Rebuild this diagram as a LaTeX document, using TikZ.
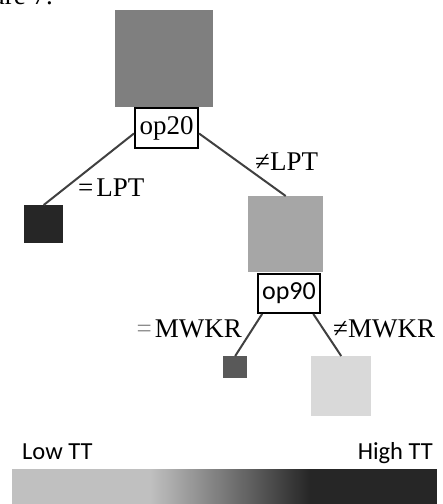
\documentclass[tikz,border=0pt]{standalone}
\usepackage{fontspec}
\setmainfont{Liberation Serif}
\newfontfamily\calib{Carlito}
\usetikzlibrary{calc}
\definecolor{rootgray}{HTML}{7F7F7F}
\definecolor{leafdark}{HTML}{262626}
\definecolor{midgray}{HTML}{A6A6A6}
\definecolor{smallgray}{HTML}{595959}
\definecolor{lightgray}{HTML}{D9D9D9}
\definecolor{edgegray}{HTML}{404040}
\definecolor{eqgray}{HTML}{8C8C8C}
\definecolor{barlight}{HTML}{C0C0C0}
\definecolor{bardark}{HTML}{262626}
\begin{document}
\begin{tikzpicture}[x=1pt,y=-1pt,
  sq/.style={draw=none,inner sep=0pt,anchor=north west},
  opbox/.style={draw=black,line width=2pt,inner sep=0pt,anchor=north west,fill=white},
  edge/.style={draw=edgegray,line width=2pt},
  lbl/.style={inner sep=0pt,font=\fontsize{27}{31}\selectfont},
  sanslbl/.style={inner sep=0pt,font=\calib\fontsize{24.5}{28}\selectfont},
  ]
\clip (0,0) rectangle (443,504);
\node[lbl,anchor=base east] (fig) at (53,4) {ure 7.};
% squares
\node[sq,fill=rootgray,minimum width=98pt,minimum height=97pt] (root) at (115,10) {};
\node[sq,fill=leafdark,minimum width=39pt,minimum height=38pt] (leafA) at (24,205) {};
\node[sq,fill=midgray,minimum width=75pt,minimum height=76pt] (mid) at (248,196) {};
\node[sq,fill=smallgray,minimum width=24pt,minimum height=22pt] (leafB) at (223,356) {};
\node[sq,fill=lightgray,minimum width=60pt,minimum height=60pt] (leafC) at (311,356) {};
% split boxes
\node[opbox,minimum width=63pt,minimum height=40pt,font=\fontsize{27}{31}\selectfont] (op20) at (134,107) {op20};
\node[opbox,minimum width=62pt,minimum height=39pt,font=\calib\fontsize{26}{30}\selectfont] (op90) at (257,273) {op90};
% edges
\draw[edge] ($(op20.north west)!0.63!(op20.south west)$) -- (leafA.north);
\draw[edge] ($(op20.north east)!0.63!(op20.south east)$) -- (mid.north);
\draw[edge] ($(op90.south west)!0.08!(op90.south east)$) -- (leafB.north);
\draw[edge] ($(op90.south west)!0.88!(op90.south east)$) -- (leafC.north);
% edge labels
\node[lbl,anchor=base west] (eqLPT) at (78,196) {=\hspace{3pt}LPT};
\node[lbl,anchor=base west] (neLPT) at (255,170) {≠LPT};
\node[lbl,anchor=base east] (eqMWKR) at (242,337) {\textcolor{eqgray}{=}\hspace{3pt}MWKR};
\node[lbl,anchor=base west] (neMWKR) at (333,337) {≠MWKR};
% legend
\node[sanslbl,anchor=base west] (low) at (22,459) {Low TT};
\node[sanslbl,anchor=base east] (high) at (433,459) {High TT};
\fill[barlight] (12,469) rectangle (150.5,504);
\shade[left color=barlight,right color=bardark] (150,469) rectangle (310,504);
\fill[bardark] (309.5,469) rectangle (437,504);
\end{tikzpicture}
\end{document}
